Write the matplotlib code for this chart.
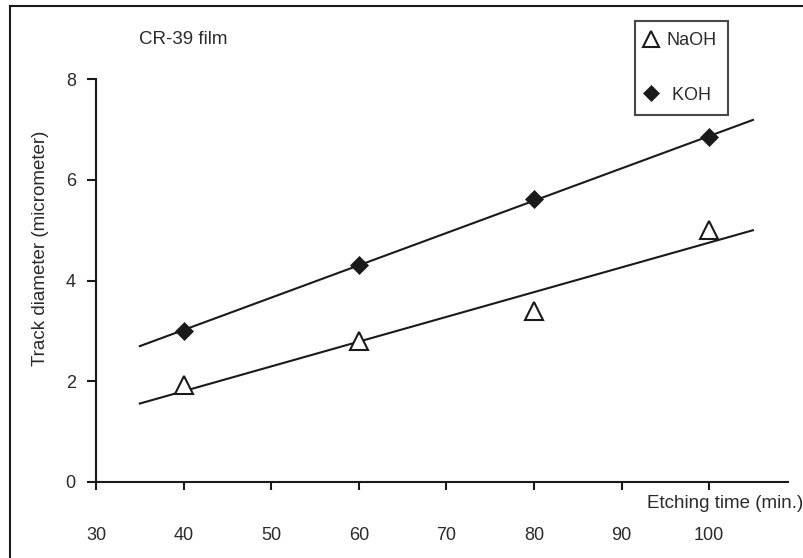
"""
Track diameter vs etching time for CR-39 film (NaOH / KOH)
"""

import numpy as np
import matplotlib
matplotlib.use('Agg')
import matplotlib.pyplot as plt
from matplotlib.lines import Line2D

#------------------------------------------------------------------------------
# data

etch_time = [40, 60, 80, 100]
naoh = [1.92, 2.80, 3.39, 5.00]
koh = [3.00, 4.31, 5.62, 6.84]

fit_range = [35, 105]

xticks = [30, 40, 50, 60, 70, 80, 90, 100]
yticks = [0, 2, 4, 6, 8]

#------------------------------------------------------------------------------

plt.rcParams['font.family'] = ['Liberation Sans', 'DejaVu Sans']

ink = '#1a1a1a'
txt = '#2a2a2a'

fig = plt.figure(figsize=[8.04, 5.58], dpi=100)
ax = fig.add_axes([96/804, 1 - 482/558, 692/804, 403/558])

# least squares lines, as in the original
xf = np.array(fit_range, dtype=float)
for y in (koh, naoh):
    p = np.polyfit(etch_time, y, 1)
    ax.plot(xf, np.polyval(p, xf), color=ink, lw=1.5, zorder=2)

ax.plot(etch_time, naoh, ls='none', marker='^', ms=13, mfc='white',
        mec=ink, mew=1.5, label='NaOH', zorder=3)
ax.plot(etch_time, koh, ls='none', marker='D', ms=9.5, mfc=ink,
        mec=ink, mew=0.5, label=' KOH', zorder=3)

ax.set_xlim(30, 109.0)
ax.set_ylim(0, 8)
ax.set_xticks(xticks)
ax.set_yticks(yticks)

for s in ('top', 'right'):
    ax.spines[s].set_visible(False)
for s in ('left', 'bottom'):
    ax.spines[s].set_linewidth(1.5)
    ax.spines[s].set_color(ink)

ax.tick_params(axis='x', direction='out', length=5.5, width=1.5, color=ink,
               pad=27, labelsize=13, labelcolor=txt)
ax.tick_params(axis='y', direction='out', length=6.5, width=1.5, color=ink,
               pad=8, labelsize=13, labelcolor=txt)

#------------------------------------------------------------------------------
# labels

fig.text(803/804, 1 - 504/558, 'Etching time (min.)', ha='right', va='center',
         fontsize=13.5, color=txt)
fig.text(40.5/804, 1 - 248/558, 'Track diameter (micrometer)', rotation=90,
         ha='center', va='center', fontsize=13.5, color=txt)
fig.text(139/804, 1 - 40/558, 'CR-39 film', ha='left', va='center',
         fontsize=13.5, color=txt)

leg = ax.legend(loc='upper left', bbox_to_anchor=(635/804, 1 - 21/558),
                bbox_transform=fig.transFigure, borderaxespad=0,
                frameon=True, fancybox=False, fontsize=13,
                handlelength=0.6, handletextpad=0.55, labelspacing=2.1,
                borderpad=0.6, markerscale=0.9)
leg.get_frame().set_edgecolor(ink)
leg.get_frame().set_linewidth(1.5)
for t in leg.get_texts():
    t.set_color(txt)

#------------------------------------------------------------------------------
# frame round the picture (left and top edges visible only)

fig.add_artist(Line2D([10/804, 10/804], [0, 1 - 6/558], color=ink, lw=1.5,
                      transform=fig.transFigure))
fig.add_artist(Line2D([10/804, 1], [1 - 6/558, 1 - 6/558], color=ink, lw=1.5,
                      transform=fig.transFigure))

fig.savefig('out.png', dpi=100)
